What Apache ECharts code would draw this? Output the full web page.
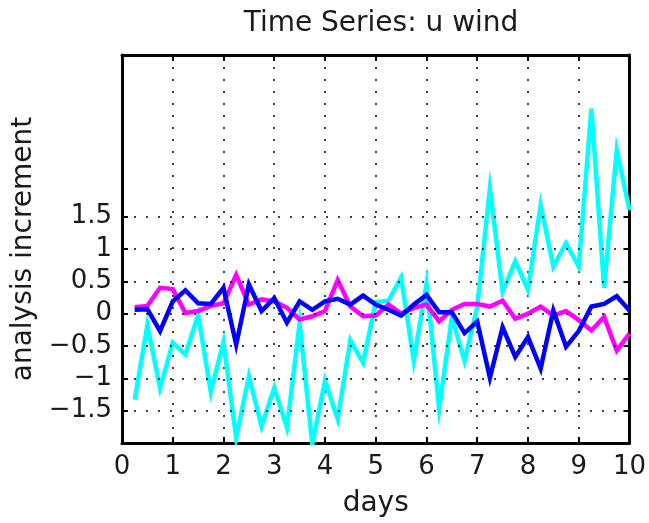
<!DOCTYPE html>
<html>
<head>
<meta charset="utf-8">
<script src="https://cdn.jsdelivr.net/npm/echarts@6/dist/echarts.min.js"></script>
<style>
  html, body { margin: 0; padding: 0; background: #fff; }
  #chart { width: 649px; height: 523px; }
</style>
</head>
<body>
<div id="chart"></div>
<script>
// Sample times (days), one every 6 hours
const days = [0.25, 0.5, 0.75, 1, 1.25, 1.5, 1.75, 2, 2.25, 2.5, 2.75, 3, 3.25, 3.5, 3.75, 4,
  4.25, 4.5, 4.75, 5, 5.25, 5.5, 5.75, 6, 6.25, 6.5, 6.75, 7, 7.25, 7.5, 7.75, 8,
  8.25, 8.5, 8.75, 9, 9.25, 9.5, 9.75, 10];

const cyanValues = [-1.33, -0.18, -1.15, -0.45, -0.63, -0.02, -1.21, -0.44, -1.92, -0.97, -1.74, -1.15,
  -1.76, -0.15, -2.02, -1.04, -1.63, -0.41, -0.76, 0.18, 0.2, 0.56, -0.73, 0.46, -1.47, -0.06, -0.73,
  0.1, 1.94, 0.34, 0.81, 0.37, 1.68, 0.73, 1.09, 0.73, 3.17, 0.4, 2.53, 1.6];

const magentaValues = [0.10, 0.12, 0.40, 0.38, 0.01, 0.04, 0.12, 0.16, 0.60, 0.14, 0.22, 0.19,
  0.09, -0.09, -0.04, 0.04, 0.52, 0.11, -0.04, -0.03, 0.14, 0.0, 0.09, 0.14, -0.12, 0.06, 0.15,
  0.15, 0.11, 0.2, -0.08, 0.0, 0.11, -0.03, 0.04, -0.1, -0.26, -0.05, -0.57, -0.31];

const blueValues = [0.06, 0.07, -0.27, 0.19, 0.36, 0.16, 0.15, 0.40, -0.48, 0.45, 0.04, 0.24,
  -0.14, 0.19, 0.06, 0.19, 0.23, 0.14, 0.28, 0.14, 0.06, -0.03, 0.14, 0.29, 0.02, 0.02, -0.3,
  -0.12, -0.99, -0.21, -0.67, -0.36, -0.85, 0.05, -0.51, -0.27, 0.11, 0.15, 0.27, 0.05];

// Labelled y ticks (the axis itself runs from -2 to 4)
const yTickValues = [-1.5, -1, -0.5, 0, 0.5, 1, 1.5];
const xTickValues = [0, 1, 2, 3, 4, 5, 6, 7, 8, 9, 10];

const FONT = 'DejaVu Sans';
const TEXT_COLOR = '#1a1a1a';
const dotted = { color: '#000', width: 1.5, type: [2, 10] };

function pairs(values) {
  return days.map((d, i) => [d, values[i]]);
}

function yLabel(v) {
  if (v === 0) return '0';
  const s = Math.abs(v).toString();
  return (v < 0 ? '\u2212' : '') + s;
}

const chart = echarts.init(document.getElementById('chart'), null, { renderer: 'canvas' });

chart.setOption({
  backgroundColor: '#fff',
  animation: false,
  title: {
    text: 'Time Series: u wind',
    left: 376, top: 5, textAlign: 'center',
    textStyle: { fontFamily: FONT, fontSize: 28, fontWeight: 'normal', color: TEXT_COLOR }
  },
  grid: { left: 122, right: 18, top: 55, bottom: 78 },
  xAxis: [{
    type: 'value', min: 0, max: 10, interval: 1,
    name: 'days', nameLocation: 'middle', nameGap: 47,
    nameTextStyle: { fontFamily: FONT, fontSize: 28, color: TEXT_COLOR },
    axisLine: { show: true, onZero: false, lineStyle: { color: '#000', width: 3 } },
    axisTick: { show: true, inside: true, length: 6, lineStyle: { color: '#000', width: 2 } },
    axisLabel: { margin: 11, fontFamily: FONT, fontSize: 26, color: TEXT_COLOR,
      customValues: xTickValues },
    splitLine: { show: true, lineStyle: dotted }
  }, {
    type: 'value', position: 'top', min: 0, max: 10, interval: 1,
    axisLine: { show: true, onZero: false, lineStyle: { color: '#000', width: 3 } },
    axisTick: { show: true, inside: true, length: 6, lineStyle: { color: '#000', width: 2 } },
    axisLabel: { show: false },
    splitLine: { show: false }
  }],
  yAxis: [{
    type: 'value', min: -2, max: 4, interval: 0.5,
    name: 'analysis increment', nameLocation: 'middle', nameGap: 74,
    nameTextStyle: { fontFamily: FONT, fontSize: 28, color: TEXT_COLOR },
    axisLine: { show: true, onZero: false, lineStyle: { color: '#000', width: 3 } },
    axisTick: { show: true, inside: true, length: 6, lineStyle: { color: '#000', width: 2 },
      customValues: yTickValues },
    axisLabel: { margin: 10, fontFamily: FONT, fontSize: 26, color: TEXT_COLOR,
      customValues: yTickValues, formatter: yLabel },
    splitLine: { show: false }
  }, {
    type: 'value', position: 'right', min: -2, max: 4, interval: 0.5,
    axisLine: { show: true, onZero: false, lineStyle: { color: '#000', width: 3 } },
    axisTick: { show: true, inside: true, length: 6, lineStyle: { color: '#000', width: 2 },
      customValues: yTickValues },
    axisLabel: { show: false },
    splitLine: { show: false }
  }],
  series: [
    {
      type: 'line', name: 'cyan', data: pairs(cyanValues), showSymbol: false, symbol: 'none',
      lineStyle: { color: '#00ffff', width: 4.5, join: 'miter' }, z: 3,
      markLine: {
        silent: true, symbol: 'none', label: { show: false },
        lineStyle: dotted, animation: false,
        data: yTickValues.map(v => ({ yAxis: v }))
      }
    },
    {
      type: 'line', name: 'magenta', data: pairs(magentaValues), showSymbol: false, symbol: 'none',
      lineStyle: { color: '#ff00ff', width: 4.5, join: 'miter' }, z: 4
    },
    {
      type: 'line', name: 'blue', data: pairs(blueValues), showSymbol: false, symbol: 'none',
      lineStyle: { color: '#0000ff', width: 4.5, join: 'miter' }, z: 5
    }
  ]
});
</script>
</body>
</html>
